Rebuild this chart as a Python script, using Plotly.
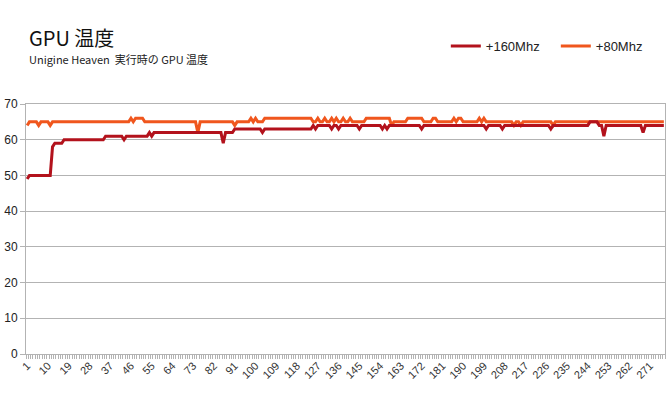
import plotly.graph_objects as go

categories = list(range(1, 278))

tick_labels = [1, 10, 19, 28, 37, 46, 55, 64, 73, 82, 91, 100, 109, 118, 127, 136,
               145, 154, 163, 172, 181, 190, 199, 208, 217, 226, 235, 244, 253, 262, 271]

y_ticks = [0, 10, 20, 30, 40, 50, 60, 70]

mhz160 = [
    49, 50, 50, 50, 50, 50, 50, 50, 50, 50,
    50, 58, 59, 59, 59, 59, 60, 60, 60, 60,
    60, 60, 60, 60, 60, 60, 60, 60, 60, 60,
    60, 60, 60, 60, 61, 61, 61, 61, 61, 61,
    61, 61, 60, 61, 61, 61, 61, 61, 61, 61,
    61, 61, 61, 62, 61, 62, 62, 62, 62, 62,
    62, 62, 62, 62, 62, 62, 62, 62, 62, 62,
    62, 62, 62, 62, 62, 62, 62, 62, 62, 62,
    62, 62, 62, 62, 62, 59, 62, 62, 62, 62,
    63, 63, 63, 63, 63, 63, 63, 63, 63, 63,
    63, 63, 62, 63, 63, 63, 63, 63, 63, 63,
    63, 63, 63, 63, 63, 63, 63, 63, 63, 63,
    63, 63, 63, 63, 64, 63, 64, 64, 64, 64,
    64, 64, 63, 64, 64, 63, 64, 64, 64, 64,
    64, 64, 64, 64, 63, 64, 64, 64, 64, 64,
    64, 64, 64, 64, 63, 64, 63, 64, 64, 64,
    64, 64, 64, 64, 64, 64, 64, 64, 64, 64,
    64, 63, 64, 64, 64, 64, 64, 64, 64, 64,
    64, 64, 64, 64, 64, 64, 64, 64, 64, 64,
    64, 64, 64, 64, 64, 64, 64, 64, 64, 63,
    64, 64, 64, 64, 64, 64, 63, 64, 64, 64,
    64, 64, 64, 64, 64, 64, 64, 64, 64, 64,
    64, 64, 64, 64, 64, 64, 64, 63, 64, 64,
    64, 64, 64, 64, 64, 64, 64, 64, 64, 64,
    64, 64, 64, 64, 65, 65, 65, 65, 64, 64,
    61, 64, 64, 64, 64, 64, 64, 64, 64, 64,
    64, 64, 64, 64, 64, 64, 64, 62, 64, 64,
    64, 64, 64, 64, 64, 64, 64,
]

mhz80 = [
    64, 65, 65, 65, 65, 64, 65, 65, 65, 65,
    64, 65, 65, 65, 65, 65, 65, 65, 65, 65,
    65, 65, 65, 65, 65, 65, 65, 65, 65, 65,
    65, 65, 65, 65, 65, 65, 65, 65, 65, 65,
    65, 65, 65, 65, 65, 66, 65, 66, 66, 66,
    66, 65, 65, 65, 65, 65, 65, 65, 65, 65,
    65, 65, 65, 65, 65, 65, 65, 65, 65, 65,
    65, 65, 65, 65, 62, 65, 65, 65, 65, 65,
    65, 65, 65, 65, 65, 65, 65, 65, 65, 65,
    64, 65, 65, 65, 65, 65, 65, 66, 65, 66,
    65, 65, 65, 66, 66, 66, 66, 66, 66, 66,
    66, 66, 66, 66, 66, 66, 66, 66, 66, 66,
    66, 66, 66, 66, 65, 65, 66, 65, 65, 66,
    65, 65, 66, 65, 66, 65, 65, 66, 65, 65,
    66, 65, 65, 65, 65, 65, 65, 66, 66, 66,
    66, 66, 66, 66, 66, 66, 66, 66, 64, 65,
    65, 65, 65, 65, 65, 66, 66, 66, 66, 66,
    66, 66, 65, 65, 65, 65, 66, 66, 65, 65,
    65, 65, 65, 65, 65, 66, 65, 66, 66, 65,
    65, 65, 65, 65, 65, 65, 66, 65, 66, 65,
    65, 65, 65, 65, 65, 65, 65, 65, 65, 65,
    65, 64, 65, 65, 64, 65, 65, 65, 65, 65,
    65, 65, 65, 65, 65, 65, 65, 65, 64, 65,
    65, 65, 65, 65, 65, 65, 65, 65, 65, 65,
    65, 65, 65, 65, 65, 65, 65, 65, 65, 65,
    65, 65, 65, 65, 65, 65, 65, 65, 65, 65,
    65, 65, 65, 65, 65, 65, 65, 65, 65, 65,
    65, 65, 65, 65, 65, 65, 65,
]

series_names = ["+160Mhz", "+80Mhz"]
RED = "#b3121c"
ORANGE = "#f0561d"
GRID = "#b3b3b3"
FONT = "Liberation Sans"

fig = go.Figure()
fig.add_trace(go.Scatter(x=categories, y=mhz80, mode="lines", name=series_names[1],
                         line=dict(color=ORANGE, width=3), legendrank=2))
fig.add_trace(go.Scatter(x=categories, y=mhz160, mode="lines", name=series_names[0],
                         line=dict(color=RED, width=3), legendrank=1))

fig.update_layout(
    width=669, height=395,
    margin=dict(l=26, r=4, t=104, b=41, autoexpand=False),
    paper_bgcolor="white", plot_bgcolor="white",
    font=dict(family=FONT, size=12, color="#222222"),
    showlegend=True,
    legend=dict(orientation="h", x=0.657, y=1.232, xanchor="left", yanchor="middle",
                font=dict(family=FONT, size=13, color="#222222"),
                itemwidth=30, entrywidth=65, entrywidthmode="pixels",
                bgcolor="rgba(0,0,0,0)"),
    annotations=[
        dict(text="GPU 温度", xref="paper", yref="paper", x=0.0016, y=1.268,
             xanchor="left", yanchor="middle", showarrow=False,
             font=dict(family="Noto Sans CJK JP", size=20, color="#111111")),
        dict(text="Unigine Heaven  実行時の GPU 温度", xref="paper", yref="paper",
             x=0.0016, y=1.18, xanchor="left", yanchor="middle", showarrow=False,
             font=dict(family="Noto Sans CJK JP", size=11, color="#222222")),
    ],
    xaxis=dict(
        range=[0.5, 277.5], automargin=False,
        tickmode="array", tickvals=tick_labels, ticktext=[str(t) for t in tick_labels],
        tickangle=-45, tickfont=dict(family=FONT, size=11, color="#333333"),
        ticks="", showgrid=False, zeroline=False,
        showline=True, linecolor=GRID, linewidth=1, mirror=True,
        minor=dict(tick0=0.5, dtick=1, ticks="outside", ticklen=4,
                   tickcolor=GRID, tickwidth=1, showgrid=False),
    ),
    yaxis=dict(
        range=[0, 70], tickmode="array", tickvals=y_ticks, automargin=False,
        tickfont=dict(family=FONT, size=12, color="#222222"),
        ticks="outside", ticklen=5, tickcolor=GRID,
        showgrid=True, gridcolor=GRID, gridwidth=1, zeroline=False,
        showline=True, linecolor=GRID, linewidth=1, mirror=True,
    ),
)

# remove the default 8px body margin so the figure fills the window exactly
fig.write_html("out.html", config={"displayModeBar": False},
               post_script="document.body.style.margin='0';")
